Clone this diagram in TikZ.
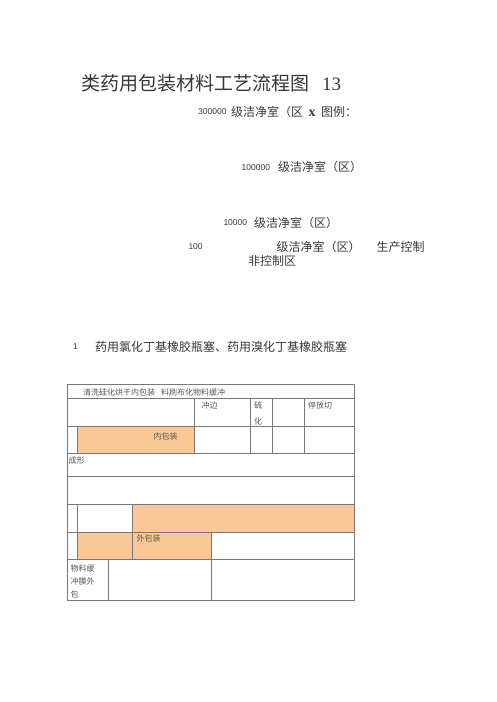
\documentclass[tikz,border=0pt]{standalone}
\usepackage{fontspec}
\setmainfont{Liberation Serif}
\newfontfamily\cjk{Noto Sans CJK SC}
\newfontfamily\zahl{Liberation Sans}
\usetikzlibrary{positioning}
\definecolor{orange_zelle}{RGB}{250,200,150}
\definecolor{linie}{RGB}{120,120,120}
\definecolor{schrift}{RGB}{55,55,55}

\begin{document}
\begin{tikzpicture}
[x=1pt, y=-1pt,
text_title/.style ={anchor=west, inner sep=0, font=\cjk\fontsize{19}{19}\selectfont, text=schrift},
text_normal/.style ={anchor=west, inner sep=0, font=\cjk\fontsize{12}{12}\selectfont, text=schrift},
text_num/.style ={anchor=west, inner sep=0, font=\zahl\fontsize{8.5}{8.5}\selectfont, text=schrift},
text_cell/.style ={anchor=west, inner sep=0, align=left, font=\cjk\fontsize{8}{12.8}\selectfont, text=schrift!85},
cell_orange/.style ={fill=orange_zelle, draw=none},
line_table/.style ={draw=linie, line width=0.8pt}
]

\useasboundingbox (0,0) rectangle (497,702);

%%%Titel%%%
\node[text_title] (titel) at (81,83) {类药用包装材料工艺流程图};
\node[text_title, font=\rmfamily\fontsize{19}{19}\selectfont] (titelnr) at (322,84) {13};

%%%Legende%%%
% row 1
\node[text_num] (300000) at (198,112) {300000};
\node[text_normal] (300000txt) at (231,112) {级洁净室（区};
\node[anchor=base west, inner sep=0, font=\bfseries\fontsize{14}{14}\selectfont, text=schrift] (x) at (308.5,116.5) {x};
\node[text_normal] (legende) at (321,112) {图例：};
% row 2
\node[text_num] (100000) at (241.5,167.3) {100000};
\node[text_normal] (100000txt) at (278,167.3) {级洁净室（区）};
% row 3
\node[text_num] (10000) at (223.3,222.7) {10000};
\node[text_normal] (10000txt) at (254,222.7) {级洁净室（区）};
% row 4
\node[text_num] (100) at (188.3,246.7) {100};
\node[text_normal] (100txt) at (276.5,246.7) {级洁净室（区）};
\node[text_normal] (kontrolle) at (376.5,246.7) {生产控制};
% row 5
\node[text_normal] (nichtkontrolle) at (248,261) {非控制区};

%%%Abschnitt%%%
\node[text_num] (nr1) at (73,346.7) {1};
\node[text_normal] (stopfen) at (95,346.7) {药用氯化丁基橡胶瓶塞、药用溴化丁基橡胶瓶塞};

%%%Tabelle%%%
\coordinate (tab_nw) at (67,384);
\coordinate (tab_se) at (354.3,600);

% orange Zellen
\fill[cell_orange] (77.7,426) rectangle (194.5,453.5);
\fill[cell_orange] (132.3,504.3) rectangle (354.3,532.3);
\fill[cell_orange] (77.7,532.3) rectangle (211.3,559.3);

% Linien
\draw[line_table] (tab_nw) rectangle (tab_se);
\foreach \y in {398.3,426,453.5,476,504.3,532.3,559.3}
  \draw[line_table] (67,\y) -- (354.3,\y);
\foreach \x in {194.5,250.3,272.7,304.3}
  \draw[line_table] (\x,398.3) -- (\x,453.5);
\draw[line_table] (77.7,426) -- (77.7,453.5);
\draw[line_table] (77.7,504.3) -- (77.7,559.3);
\draw[line_table] (132.3,504.3) -- (132.3,559.3);
\draw[line_table] (211.3,532.3) -- (211.3,600);
\draw[line_table] (108,559.3) -- (108,600);

% Zelltexte
\node[text_cell] (kopf) at (83,392.5) {清洗硅化烘干内包装\hspace{6pt}料刷布化物料缓冲};
\node[text_cell] (chongbian) at (201.5,405) {冲边};
\node[text_cell, font=\cjk\fontsize{8}{16.7}\selectfont] (liuhua) at (253.8,413.4) {硫\\化};
\node[text_cell] (tingfang) at (308,405) {停放切};
\node[text_cell] (innen) at (153.5,436.5) {内包装};
\node[text_cell] (chengxing) at (68.3,460.7) {成形};
\node[text_cell] (aussen) at (136.5,538) {外包装};
\node[text_cell] (wuliao) at (70.3,581.2) {物料缓\\冲膜外\\包};

\end{tikzpicture}
\end{document}
